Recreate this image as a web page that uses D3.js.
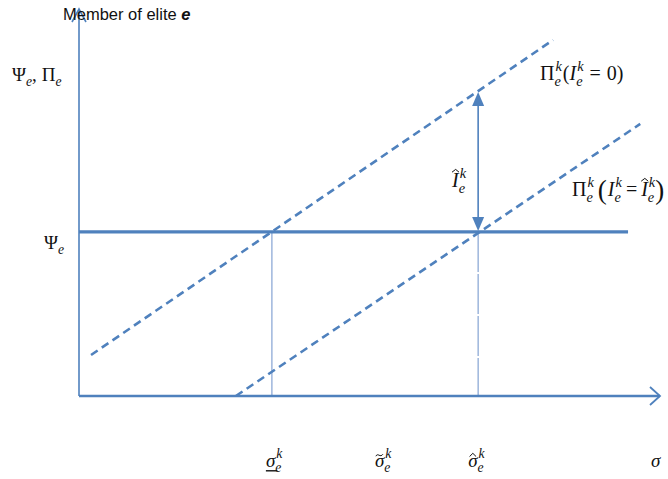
<!DOCTYPE html>
<html><head><meta charset="utf-8">
<script src="https://cdn.jsdelivr.net/npm/d3@7"></script>
<style>html,body{margin:0;padding:0;background:#fff;}svg{display:block;}</style>
</head><body>
<svg id="c" width="668" height="479"></svg>
<script>
// ---- data (conceptual units) ----
const sigmaDomain = [0, 10];
const valueDomain = [0, 10];
const psiValue = 4.24;
const psiEnd = 9.45;
const piNoInvest = [[0.207, 1.06], [8.16, 9.2]];      // Π(I=0)
const piWithInvest = [[2.70, 0.0], [9.66, 7.03]];     // Π(I=Î)
const sigmaLow = 3.32, sigmaTilde = 5.18, sigmaHat = 6.87, sigmaEnd = 9.93;
const tickLabels = ["σlow", "σtilde", "σhat", "σ"];

const svg = d3.select("#c");
const x = d3.scaleLinear().domain(sigmaDomain).range([79, 660]);
const y = d3.scaleLinear().domain(valueDomain).range([396, 9]);
const blue = "#4F81BD", light = "#8EAAD6";
const line = d3.line().x(d => x(d[0])).y(d => y(d[1]));

// verticals
svg.append("line").attr("x1", x(sigmaLow)).attr("x2", x(sigmaLow)).attr("y1", y(psiValue)).attr("y2", y(0))
  .attr("stroke", light).attr("stroke-width", 1.3);
svg.append("line").attr("x1", x(sigmaHat)).attr("x2", x(sigmaHat)).attr("y1", y(psiValue)).attr("y2", y(0))
  .attr("stroke", light).attr("stroke-width", 1.3).attr("stroke-dasharray", "40,2");

// dashed lines
[piNoInvest, piWithInvest].forEach(d => {
  svg.append("path").attr("d", line(d)).attr("fill", "none").attr("stroke", blue)
    .attr("stroke-width", 2.6).attr("stroke-dasharray", "8,5");
});

// axes
svg.append("line").attr("x1", x(0)).attr("x2", x(0)).attr("y1", y(0)).attr("y2", y(10))
  .attr("stroke", blue).attr("stroke-width", 1.6);
svg.append("path").attr("d", `M${x(0)-7},${y(10)+13}L${x(0)},${y(10)}L${x(0)+7},${y(10)+13}`)
  .attr("fill", "none").attr("stroke", blue).attr("stroke-width", 1.6);
svg.append("line").attr("x1", x(0)).attr("x2", x(10)).attr("y1", y(0)).attr("y2", y(0))
  .attr("stroke", blue).attr("stroke-width", 2.4);
svg.append("path").attr("d", `M${x(10)-10},${y(0)-9}L${x(10)},${y(0)}L${x(10)-10},${y(0)+9}`)
  .attr("fill", "none").attr("stroke", blue).attr("stroke-width", 1.8);

// Ψ line
svg.append("line").attr("x1", x(0)).attr("x2", x(psiEnd)).attr("y1", y(psiValue)).attr("y2", y(psiValue))
  .attr("stroke", blue).attr("stroke-width", 3.2);

// double arrow
const topV = piNoInvest[0][1] + (sigmaHat - piNoInvest[0][0]) * (piNoInvest[1][1]-piNoInvest[0][1])/(piNoInvest[1][0]-piNoInvest[0][0]);
const ax = x(sigmaHat), ay1 = y(topV), ay2 = y(psiValue);
svg.append("line").attr("x1", ax).attr("x2", ax).attr("y1", ay1+12).attr("y2", ay2-12).attr("stroke", blue).attr("stroke-width", 1.6);
svg.append("path").attr("d", `M${ax},${ay1+1}L${ax-6},${ay1+15}L${ax+6},${ay1+15}Z`).attr("fill", blue);
svg.append("path").attr("d", `M${ax},${ay2-1}L${ax-6},${ay2-15}L${ax+6},${ay2-15}Z`).attr("fill", blue);

// ---- math text helper ----
const serif = "'Liberation Serif','DejaVu Serif',serif";
function math(x0, y0, items, size) {
  const g = svg.append("g");
  let cx = x0;
  items.forEach(it => {
    const s = it.size || size;
    const t = g.append("text").attr("x", cx).attr("y", y0 + (it.dy || 0)).attr("font-family", serif)
      .attr("font-size", s).attr("font-style", it.italic ? "italic" : "normal").attr("fill", "#111").text(it.t);
    let w = t.node().getComputedTextLength();
    if (it.hat) {
      g.append("path").attr("d", `M${cx+w*0.0},${y0-s*0.74}L${cx+w*0.55},${y0-s*0.88}L${cx+w*1.05},${y0-s*0.74}`)
        .attr("fill", "none").attr("stroke", "#111").attr("stroke-width", 1);
    }
    if (it.smallhat) {
      g.append("path").attr("d", `M${cx+w*0.15},${y0-s*0.55}L${cx+w*0.5},${y0-s*0.72}L${cx+w*0.85},${y0-s*0.55}`)
        .attr("fill", "none").attr("stroke", "#111").attr("stroke-width", 1);
    }
    if (it.tilde) {
      const yy = y0 - s*0.62;
      g.append("path").attr("d", `M${cx+w*0.1},${yy+1}C${cx+w*0.3},${yy-3} ${cx+w*0.55},${yy+3} ${cx+w*0.85},${yy-1}`)
        .attr("fill", "none").attr("stroke", "#111").attr("stroke-width", 1);
    }
    if (it.under) {
      g.append("line").attr("x1", cx).attr("x2", cx + w + 2).attr("y1", y0 + s*0.2).attr("y2", y0 + s*0.2)
        .attr("stroke", "#111").attr("stroke-width", 1.4);
    }
    let extra = 0;
    if (it.sup || it.sub) {
      const ss = s * 0.72;
      let ws = 0;
      if (it.sup) {
        const a = g.append("text").attr("x", cx + w + 1).attr("y", y0 - s*0.45).attr("font-family", serif)
          .attr("font-size", ss).attr("font-style", "italic").attr("fill", "#111").text(it.sup);
        ws = Math.max(ws, a.node().getComputedTextLength() + 1);
      }
      if (it.sub) {
        const b = g.append("text").attr("x", cx + w).attr("y", y0 + s*0.28).attr("font-family", serif)
          .attr("font-size", ss).attr("font-style", "italic").attr("fill", "#111").text(it.sub);
        ws = Math.max(ws, b.node().getComputedTextLength());
      }
      extra = ws;
    }
    cx += w + extra + (it.gap || 0);
  });
  return g;
}

// title on axis
svg.append("text").attr("x", 63).attr("y", 20).attr("font-family", "'Liberation Sans',Arial,sans-serif")
  .attr("font-size", 16.5).attr("fill", "#111")
  .call(t => { t.append("tspan").text("Member of elite "); t.append("tspan").attr("font-style", "italic").attr("font-weight", "bold").text("e"); });

math(12, 81, [{t: "Ψ", sub: "e"}, {t: ",", gap: 5}, {t: "Π", sub: "e"}], 19);
math(44, 249, [{t: "Ψ", sub: "e"}], 19);

// right labels
math(540, 80, [{t: "Π", sub: "e", sup: "k", gap: 1}, {t: "("}, {t: "I", italic: true, sub: "e", sup: "k", gap: 6}, {t: "=", gap: 6}, {t: "0"}, {t: ")"}], 20);
math(452, 187, [{t: "I", italic: true, hat: true, sub: "e", sup: "k"}], 20);
math(572, 196, [{t: "Π", sub: "e", sup: "k", gap: 4}, {t: "(", size: 27, dy: 3, gap: 1}, {t: "I", italic: true, sub: "e", sup: "k", gap: 4}, {t: "=", gap: 4}, {t: "I", italic: true, hat: true, sub: "e", sup: "k"}, {t: ")", size: 27, dy: 3}], 20);

// bottom labels
math(x(sigmaLow) - 6, 467, [{t: "σ", italic: true, under: true, sub: "e", sup: "k"}], 19);
math(x(sigmaTilde) - 5, 467, [{t: "σ", italic: true, tilde: true, sub: "e", sup: "k"}], 19);
math(x(sigmaHat) - 10, 467, [{t: "σ", italic: true, smallhat: true, sub: "e", sup: "k"}], 19);
math(x(sigmaEnd) - 5, 467, [{t: "σ", italic: true}], 19);
</script>
</body></html>
